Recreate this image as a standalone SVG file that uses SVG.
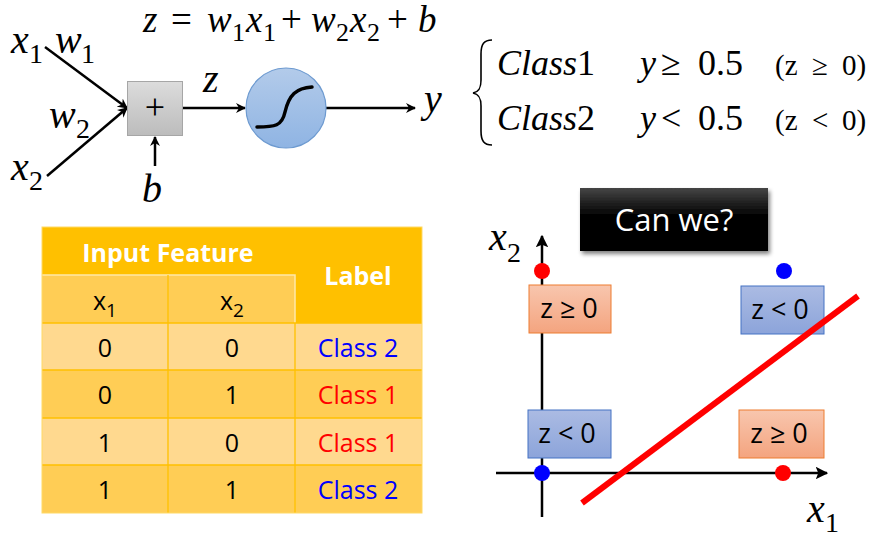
<svg xmlns="http://www.w3.org/2000/svg" width="884" height="540" viewBox="0 0 884 540">
<defs>
<marker id="ah" viewBox="0 0 10 10" refX="9" refY="5" markerWidth="4" markerHeight="4" orient="auto" markerUnits="strokeWidth"><path d="M0,0 L10,5 L0,10 L3,5 z" fill="#000"/></marker>
<marker id="ah2" viewBox="0 0 10 10" refX="9" refY="5" markerWidth="5" markerHeight="5" orient="auto" markerUnits="strokeWidth"><path d="M0,0 L10,5 L0,10 L2,5 z" fill="#000"/></marker>
<linearGradient id="gGray" x1="0" y1="0" x2="0" y2="1"><stop offset="0" stop-color="#dcdcdc"/><stop offset="1" stop-color="#bcbcbc"/></linearGradient>
<linearGradient id="gBlueC" x1="0" y1="0" x2="0" y2="1"><stop offset="0" stop-color="#b3cbea"/><stop offset="1" stop-color="#8fb4e3"/></linearGradient>
<linearGradient id="gOr" x1="0" y1="0" x2="0" y2="1"><stop offset="0" stop-color="#f8c6ae"/><stop offset="1" stop-color="#f4a47f"/></linearGradient>
<linearGradient id="gBl" x1="0" y1="0" x2="0" y2="1"><stop offset="0" stop-color="#abbbe3"/><stop offset="1" stop-color="#8ca4da"/></linearGradient>
<linearGradient id="gBlack" x1="0" y1="0" x2="0" y2="1"><stop offset="0" stop-color="#454545"/><stop offset="0.45" stop-color="#000"/><stop offset="1" stop-color="#000"/></linearGradient>
<filter id="sh" x="-10%" y="-10%" width="130%" height="140%"><feGaussianBlur in="SourceAlpha" stdDeviation="2"/><feOffset dx="2" dy="3"/><feComponentTransfer><feFuncA type="linear" slope="0.5"/></feComponentTransfer><feMerge><feMergeNode/><feMergeNode in="SourceGraphic"/></feMerge></filter>
</defs>
<style>
.m{font-family:"Liberation Serif","Times New Roman",serif;font-style:italic;fill:#000}
.u{font-style:normal}
.ln{stroke:#000;stroke-width:2.5;fill:none}
.ax{stroke:#000;stroke-width:2.5;fill:none}
.bt{font-family:"Open Sans",sans-serif;font-size:27px;fill:#000;text-anchor:middle}
.td{font-family:"Open Sans",sans-serif;font-size:25px;fill:#000;text-anchor:middle}
.hd{font-family:"Open Sans",sans-serif;font-size:25px;font-weight:bold;fill:#fff;text-anchor:middle}
.blue{fill:#0000ff}
.red{fill:#ff0000}
</style>

<g id="equation">
<text class="m" font-size="37"><tspan x="143" y="32">z</tspan><tspan class="u" x="171" y="32">=</tspan><tspan x="207" y="32">w</tspan><tspan class="u" font-size="26" x="232" y="41">1</tspan><tspan x="246" y="32">x</tspan><tspan class="u" font-size="26" x="263" y="41">1</tspan><tspan class="u" x="281" y="32">+</tspan><tspan x="311" y="32">w</tspan><tspan class="u" font-size="26" x="336" y="41">2</tspan><tspan x="350" y="32">x</tspan><tspan class="u" font-size="26" x="367" y="41">2</tspan><tspan class="u" x="387" y="32">+</tspan><tspan x="418" y="32">b</tspan></text>
</g>

<g id="input-labels">
<text class="m" font-size="40"><tspan x="11" y="53">x</tspan><tspan class="u" font-size="28" x="29" y="63">1</tspan></text>
<text class="m" font-size="40"><tspan x="55" y="53">w</tspan><tspan class="u" font-size="28" x="81" y="63">1</tspan></text>
<text class="m" font-size="40"><tspan x="49" y="128">w</tspan><tspan class="u" font-size="28" x="76" y="138">2</tspan></text>
<text class="m" font-size="40"><tspan x="11" y="180">x</tspan><tspan class="u" font-size="28" x="29" y="190">2</tspan></text>
<text class="m" font-size="40" x="142" y="202">b</text>
<text class="m" font-size="40" x="203" y="92">z</text>
<text class="m" font-size="40" x="424" y="112">y</text>
</g>

<g id="connectors">
<line class="ln" x1="45" y1="47" x2="127" y2="108" marker-end="url(#ah)"/>
<line class="ln" x1="47" y1="176" x2="127" y2="108" marker-end="url(#ah)"/>
<line class="ln" x1="155" y1="166" x2="155" y2="137" marker-end="url(#ah)"/>
<line class="ln" x1="183" y1="108" x2="245" y2="108" marker-end="url(#ah)"/>
<line class="ln" x1="326" y1="108" x2="415" y2="108" marker-end="url(#ah)"/>
</g>

<g id="sum-node">
<rect x="127.5" y="81.5" width="55" height="54" fill="url(#gGray)" stroke="#a6a6a6" stroke-width="1"/>
<text x="155" y="119" font-family="Liberation Serif,serif" font-size="36" text-anchor="middle">+</text>
</g>

<g id="sigmoid-node">
<circle cx="286" cy="108" r="40" fill="url(#gBlueC)" stroke="#6d9ad0" stroke-width="1.2"/>
<path d="M257,127 C275,127 282,126 285,112 C289,95 296,88 312,87" fill="none" stroke="#000" stroke-width="3.5" stroke-linecap="round"/>
</g>

<g id="class-rule">
<path d="M492,40 C484,40 481,44 481,54 L481,80 C481,88 479,92 473,93 C479,94 481,98 481,106 L481,131 C481,141 484,145 492,145" fill="none" stroke="#000" stroke-width="1.6"/>
<text class="m" font-size="36"><tspan x="497" y="75">Class</tspan><tspan class="u">1</tspan><tspan x="640" y="75">y</tspan><tspan class="u" x="661" y="75">≥</tspan><tspan class="u" x="698" y="75">0.5</tspan></text>
<text class="m" font-size="36"><tspan x="497" y="130">Class</tspan><tspan class="u">2</tspan><tspan x="640" y="130">y</tspan><tspan class="u" x="661" y="130">&lt;</tspan><tspan class="u" x="698" y="130">0.5</tspan></text>
<text class="m u" font-size="29"><tspan x="775" y="75">(z</tspan><tspan x="812" y="75">≥</tspan><tspan x="842" y="75">0)</tspan></text>
<text class="m u" font-size="29"><tspan x="775" y="130">(z</tspan><tspan x="812" y="130">&lt;</tspan><tspan x="842" y="130">0)</tspan></text>
</g>

<g id="table">
<rect x="42" y="227" width="380" height="96" fill="#ffc000"/>
<rect x="42" y="275" width="253" height="48" fill="#ffcd55"/>
<rect x="42" y="323" width="380" height="47" fill="#ffd98f"/>
<rect x="42" y="370" width="380" height="48" fill="#ffcd55"/>
<rect x="42" y="418" width="380" height="47" fill="#ffd98f"/>
<rect x="42" y="465" width="380" height="48" fill="#ffcd55"/>
<path d="M42,275 H295 V323" fill="none" stroke="#ffe7a8" stroke-width="1.5"/>
<path d="M42,323 H422 M42,370 H422 M42,418 H422 M42,465 H422 M168,275 V513 M295,323 V513" stroke="#ffc000" stroke-width="1.3" fill="none"/>
<rect x="42" y="227" width="380" height="286" fill="none" stroke="#ffd966" stroke-width="1"/>
<text class="hd" x="168" y="262">Input Feature</text>
<text class="hd" x="358" y="285">Label</text>
<text class="td" x="105" y="310" font-size="29">x<tspan font-size="19" dy="7">1</tspan></text>
<text class="td" x="232" y="310" font-size="29">x<tspan font-size="19" dy="7">2</tspan></text>
<text class="td" x="105" y="357">0</text><text class="td" x="232" y="357">0</text><text class="td blue" x="358" y="357">Class 2</text>
<text class="td" x="105" y="404">0</text><text class="td" x="232" y="404">1</text><text class="td red" x="358" y="404">Class 1</text>
<text class="td" x="105" y="452">1</text><text class="td" x="232" y="452">0</text><text class="td red" x="358" y="452">Class 1</text>
<text class="td" x="105" y="499">1</text><text class="td" x="232" y="499">1</text><text class="td blue" x="358" y="499">Class 2</text>
</g>

<g id="can-we">
<rect x="580" y="188" width="188" height="63" fill="url(#gBlack)" filter="url(#sh)"/>
<text x="674" y="231" font-family="'Open Sans',sans-serif" font-size="31" fill="#fff" text-anchor="middle">Can we?</text>
</g>

<g id="axes">
<line class="ax" x1="542" y1="517" x2="542" y2="236" marker-end="url(#ah2)"/>
<line class="ax" x1="496" y1="473" x2="827" y2="473" marker-end="url(#ah2)"/>
<text class="m" font-size="40"><tspan x="489" y="250">x</tspan><tspan class="u" font-size="28" x="507" y="262">2</tspan></text>
<text class="m" font-size="40"><tspan x="807" y="522">x</tspan><tspan class="u" font-size="28" x="825" y="532">1</tspan></text>
</g>

<g id="box-tl"><rect x="529" y="285" width="82" height="48" fill="url(#gOr)" stroke="#ed7d31" stroke-width="1"/><text class="bt" x="569" y="318">z ≥ 0</text></g>
<g id="box-tr"><rect x="741" y="286" width="83" height="48" fill="url(#gBl)" stroke="#4472c4" stroke-width="1"/><text class="bt" x="780" y="319">z &lt; 0</text></g>
<g id="box-bl"><rect x="528" y="410" width="83" height="48" fill="url(#gBl)" stroke="#4472c4" stroke-width="1"/><text class="bt" x="567" y="443">z &lt; 0</text></g>
<g id="box-br"><rect x="739" y="410" width="85" height="48" fill="url(#gOr)" stroke="#ed7d31" stroke-width="1"/><text class="bt" x="779" y="443">z ≥ 0</text></g>

<g id="points">
<circle cx="542" cy="271" r="8" fill="#ff0000"/>
<circle cx="784" cy="271" r="8" fill="#0000ff"/>
<circle cx="542" cy="473" r="8" fill="#0000ff"/>
<circle cx="783" cy="473" r="8" fill="#ff0000"/>
</g>

<g id="boundary">
<line x1="582" y1="503" x2="858" y2="296" stroke="#ff0000" stroke-width="6"/>
</g>
</svg>
